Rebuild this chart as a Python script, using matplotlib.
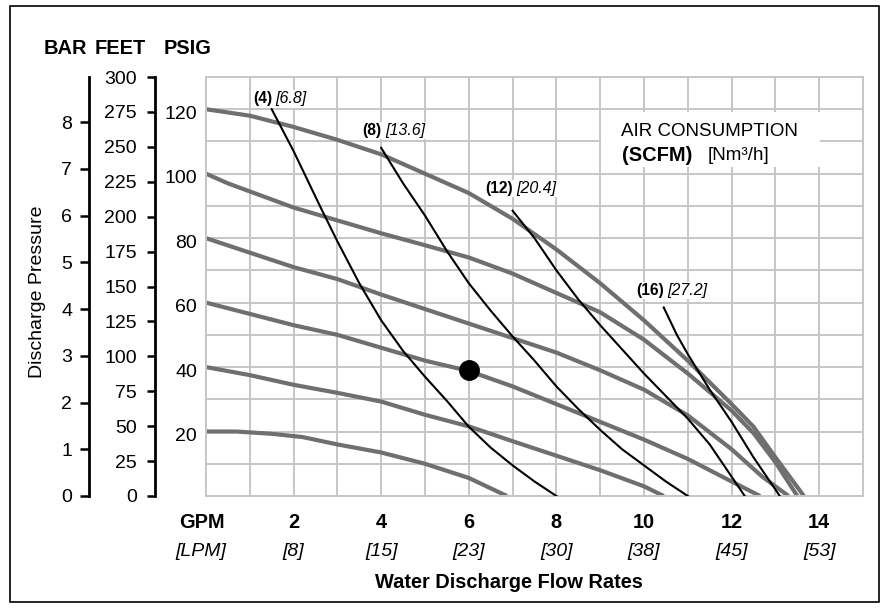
import matplotlib
matplotlib.use("Agg")
import matplotlib.pyplot as plt
import matplotlib.transforms as mtransforms
from matplotlib import font_manager
from matplotlib.patches import Rectangle

# fonts: regular text in Liberation Sans, heavy labels in the narrow cut if present
installed = {f.name for f in font_manager.fontManager.ttflist}
REG = "Liberation Sans"
if "Liberation Sans Narrow" in installed:
    BOLD, BOLD_SCALE = "Liberation Sans Narrow", 1.0
else:
    BOLD, BOLD_SCALE = "Liberation Sans", 0.9
plt.rcParams["font.family"] = [REG, "DejaVu Sans"]

# ---- data -------------------------------------------------------------
# air inlet pressure curves (grey), water flow GPM vs discharge PSIG
gpm_120 = [0, 1, 2, 3, 4, 5, 6, 7, 8, 9, 10, 11, 12, 12.5, 13, 13.65]
psig_120 = [120, 118, 114.5, 110.5, 106, 100, 94, 86, 76.5, 66, 54.5, 42, 28.5, 21.5, 12, 0]

gpm_100 = [0, 0.5, 1, 2, 3, 4, 5, 6, 7, 8, 9, 10, 11, 12, 12.5, 13, 13.5]
psig_100 = [100, 97, 94.5, 89.5, 85.5, 81.5, 77.8, 74, 69, 63, 57, 48.5, 38, 26.5, 19.5, 10.5, 0]

gpm_80 = [0, 1, 2, 3, 4, 5, 6, 7, 8, 9, 10, 11, 12, 12.7, 13.3]
psig_80 = [80, 75.5, 71, 67.3, 62.5, 58, 53.5, 49, 44.5, 39, 33, 25, 14.5, 6, 0]

gpm_60 = [0, 1, 2, 3, 4, 5, 6, 7, 8, 9, 10, 11, 12, 12.65]
psig_60 = [60, 56.5, 53, 50, 46, 42, 38.8, 34, 28.5, 23, 17.5, 11.5, 4.5, 0]

gpm_40 = [0, 1, 2, 3, 4, 5, 6, 7, 8, 9, 10, 10.45]
psig_40 = [40, 37.5, 34.5, 32, 29.3, 25.2, 21.6, 17, 12.5, 8, 3, 0]

gpm_20 = [0, 0.7, 1.5, 2.2, 3, 4, 5, 6, 6.87]
psig_20 = [20, 20, 19.3, 18.3, 16, 13.5, 10, 5.6, 0]

# air consumption curves (black), SCFM
gpm_4scfm = [1.5, 2, 2.6, 3, 3.5, 4, 4.5, 5, 5.5, 6, 6.5, 7, 7.5, 8]
psig_4scfm = [120, 107, 90, 79, 66, 54.5, 45, 37, 29.5, 21.5, 15, 9.5, 4.5, 0]

gpm_8scfm = [4, 4.5, 5, 5.5, 6, 6.5, 7, 7.5, 8, 8.5, 9, 9.5, 10, 10.5, 11]
psig_8scfm = [108, 97, 87, 76, 66, 57.5, 49.5, 42, 34, 27, 20.5, 14.5, 9.5, 4.5, 0]

gpm_12scfm = [7, 7.5, 8, 8.5, 9, 9.5, 10, 10.5, 11, 11.5, 12, 12.3]
psig_12scfm = [88.5, 80, 70, 61, 53, 45.5, 38, 31, 24, 16, 6, 0]

gpm_16scfm = [10.45, 10.75, 11, 11.5, 12, 12.5, 13.1]
psig_16scfm = [58.5, 50, 44, 33, 23, 12, 0]

scfm_labels = ["(4)", "(8)", "(12)", "(16)"]
nm3h_labels = ["[6.8]", "[13.6]", "[20.4]", "[27.2]"]

# example operating point
point_gpm, point_psig = 6.0, 39

gpm_ticks = [2, 4, 6, 8, 10, 12, 14]
lpm_ticks = ["[8]", "[15]", "[23]", "[30]", "[38]", "[45]", "[53]"]
psig_ticks = [20, 40, 60, 80, 100, 120]
feet_ticks = list(range(0, 301, 25))
bar_ticks = list(range(0, 9))

# ---- figure -----------------------------------------------------------
W, H = 890, 608
fig = plt.figure(figsize=(W / 100, H / 100), dpi=100)
x0, x1, y0, y1 = 206, 863, 496, 77
ax = fig.add_axes([x0 / W, 1 - y0 / H, (x1 - x0) / W, (y0 - y1) / H])

grid_c = "#c6c6c6"
ax.set_xlim(0, 15)
ax.set_ylim(0, 130)
ax.set_xticks(range(16))
ax.set_yticks(range(0, 131, 10))
ax.set_yticklabels([str(v) if v in psig_ticks else "" for v in range(0, 131, 10)])
ax.tick_params(axis="x", length=0, labelbottom=False)
ax.tick_params(axis="y", length=0, pad=6.5, labelsize=14)
shift = mtransforms.ScaledTranslation(0, -3 / 100, fig.dpi_scale_trans)
for lbl in ax.get_yticklabels():
    lbl.set_transform(lbl.get_transform() + shift)
ax.set_axisbelow(True)
ax.grid(True, color=grid_c, linewidth=1.4)
for s in ax.spines.values():
    s.set_color(grid_c)
    s.set_linewidth(1.4)

# grey pressure curves
grey = "#6f6f6f"
for gx, gy in [(gpm_120, psig_120), (gpm_100, psig_100), (gpm_80, psig_80),
               (gpm_60, psig_60), (gpm_40, psig_40), (gpm_20, psig_20)]:
    ax.plot(gx, gy, color=grey, linewidth=3.0, solid_capstyle="butt", zorder=2)

# black air consumption curves
black_curves = [(gpm_4scfm, psig_4scfm), (gpm_8scfm, psig_8scfm),
                (gpm_12scfm, psig_12scfm), (gpm_16scfm, psig_16scfm)]
for bx, by in black_curves:
    ax.plot(bx, by, color="black", linewidth=1.5, zorder=3)

ax.plot(point_gpm, point_psig, "o", color="black", markersize=14, zorder=4)

# curve labels
label_dy = [3.2, 5.3, 7.0, 5.3]
for (bx, by), a, b, dy in zip(black_curves, scfm_labels, nm3h_labels, label_dy):
    ax.text(bx[0] + 0.01, by[0] + dy, a, ha="right", va="center",
            fontsize=12.5 * BOLD_SCALE, fontweight="bold", family=BOLD, zorder=5,
            bbox=dict(fc="white", ec="none", pad=0.8))
    ax.text(bx[0] + 0.09, by[0] + dy, b, ha="left", va="center",
            fontsize=11.5, fontstyle="italic", zorder=5,
            bbox=dict(fc="white", ec="none", pad=0.8))

# legend box
ax.add_patch(Rectangle((9.02, 102), 5.0, 17.2, facecolor="white", edgecolor="none", zorder=1))
ax.text(11.5, 113.2, "AIR CONSUMPTION", ha="center", va="center", fontsize=13.5, zorder=5)
ax.text(11.1, 105.6, "(SCFM)", ha="right", va="center", fontsize=16 * BOLD_SCALE,
        fontweight="bold", family=BOLD, zorder=5)
ax.text(11.45, 105.6, "[Nm³/h]", ha="left", va="center", fontsize=13.5, zorder=5)

# FEET axis
axf = ax.twinx()
axf.set_ylim(0, 300)
axf.yaxis.tick_left()
axf.spines["left"].set_position(("outward", (x0 - 155) * 0.72))
axf.spines["left"].set_linewidth(2.0)
for k in ["right", "top", "bottom"]:
    axf.spines[k].set_visible(False)
axf.set_yticks(feet_ticks)
axf.tick_params(axis="y", direction="out", length=6, width=1.8, pad=7, labelsize=14)

# BAR axis
axb = ax.twinx()
axb.set_ylim(0, 130 / 14.5038)
axb.yaxis.tick_left()
axb.spines["left"].set_position(("outward", (x0 - 89) * 0.72))
axb.spines["left"].set_linewidth(2.0)
for k in ["right", "top", "bottom"]:
    axb.spines[k].set_visible(False)
axb.set_yticks(bar_ticks)
axb.tick_params(axis="y", direction="out", length=6.5, width=1.8, pad=5.5, labelsize=14)

# headers
hsize = 16 * BOLD_SCALE
for name, px in [("BAR", 65.5), ("FEET", 120.5), ("PSIG", 188)]:
    fig.text(px / W, 1 - 48 / H, name, ha="center", va="center", fontsize=hsize,
             fontweight="bold", family=BOLD)
fig.text(38 / W, 1 - 292 / H, "Discharge Pressure", rotation=90, ha="center",
         va="center", fontsize=14)

# x labels
tr = mtransforms.blended_transform_factory(ax.transData, fig.transFigure)
ax.text(-0.1, 1 - 523 / H, "GPM", transform=tr, ha="center", va="center",
        fontsize=hsize, fontweight="bold", family=BOLD)
ax.text(-0.12, 1 - 551 / H, "[LPM]", transform=tr, ha="center", va="center",
        fontsize=14, fontstyle="italic")
for g, l in zip(gpm_ticks, lpm_ticks):
    ax.text(g, 1 - 523 / H, str(g), transform=tr, ha="center", va="center",
            fontsize=hsize, fontweight="bold", family=BOLD)
    ax.text(g, 1 - 551 / H, l, transform=tr, ha="center", va="center",
            fontsize=14, fontstyle="italic")
fig.text(509 / W, 1 - 583 / H, "Water Discharge Flow Rates", ha="center", va="center",
         fontsize=hsize, fontweight="bold", family=BOLD)

# outer frame
fig.patches.append(Rectangle((10 / W, 1 - 602 / H), 869 / W, 596 / H,
                             transform=fig.transFigure, fill=False,
                             edgecolor="black", linewidth=1.2))

fig.savefig("out.png", dpi=100)
